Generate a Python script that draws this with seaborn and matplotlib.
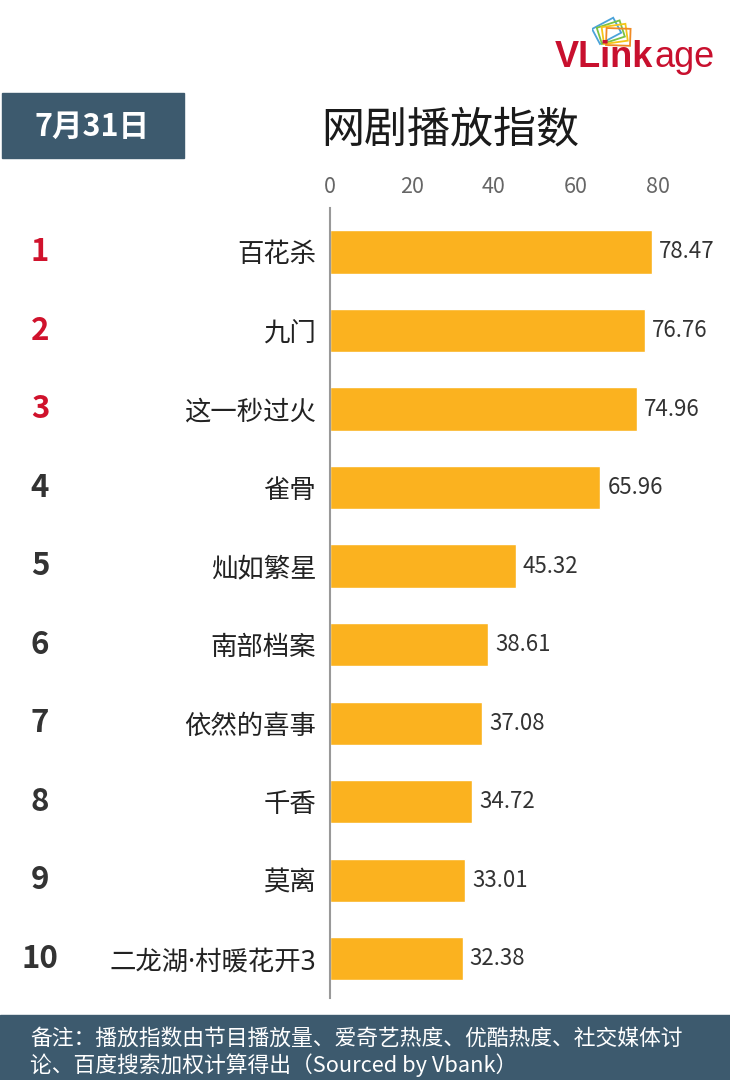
import matplotlib
matplotlib.use('Agg')
import matplotlib.pyplot as plt
import matplotlib.transforms as mtransforms
from matplotlib.patches import Rectangle
import seaborn as sns
import pandas as pd

# data
ranks = ['1', '2', '3', '4', '5', '6', '7', '8', '9', '10']
shows = ['百花杀', '九门', '这一秒过火', '雀骨', '灿如繁星', '南部档案',
         '依然的喜事', '千香', '莫离', '二龙湖·村暖花开3']
index_values = [78.47, 76.76, 74.96, 65.96, 45.32, 38.61, 37.08, 34.72, 33.01, 32.38]
x_ticks = [0, 20, 40, 60, 80]

title = '网剧播放指数'
date_label = '7月31日'
note_text = ('备注：播放指数由节目播放量、爱奇艺热度、优酷热度、社交媒体讨\n'
             '论、百度搜索加权计算得出（Sourced by Vbank）')

bar_color = '#FBB21F'
slate = '#3D5A6E'
red = '#D0122C'
dark = '#333333'

sns.set_style('white')
plt.rcParams['font.family'] = ['Noto Sans CJK SC', 'DejaVu Sans']

W, H = 730, 1080
fig = plt.figure(figsize=(W / 100, H / 100), dpi=100)

df = pd.DataFrame({'show': shows, 'value': index_values})

# main axes: left edge at x=330px, 4.1 px per unit
ax = fig.add_axes([330 / W, 1 - 998 / H, 96 * 4.1 / W, 790 / H])
sns.barplot(data=df, x='value', y='show', orient='h', color=bar_color,
            width=0.55, saturation=1, ax=ax)
ax.set_ylim(9.5, -0.56)
ax.set_xlim(0, 96)
ax.set_xlabel('')
ax.set_ylabel('')
ax.xaxis.tick_top()
ax.set_xticks(x_ticks)
ax.tick_params(axis='x', length=0, pad=7, labelsize=15.5, labelcolor='#666666')
ax.tick_params(axis='y', length=0, pad=10, labelsize=19, labelcolor='#222222')
for s in ['top', 'right', 'bottom']:
    ax.spines[s].set_visible(False)
ax.spines['left'].set_color('#999999')
ax.spines['left'].set_linewidth(1.5)
# narrow middle dot for the label that has one
for lbl in ax.get_yticklabels():
    if '·' in lbl.get_text():
        lbl.set_family(['Noto Sans', 'Noto Sans CJK SC'])

ax.bar_label(ax.containers[0], labels=[f'{v:.2f}' for v in index_values],
             padding=5, fontsize=16, color=dark)

# rank numbers on the far left
trans = mtransforms.blended_transform_factory(fig.transFigure, ax.transData)
for i, r in enumerate(ranks):
    ax.text(40 / W, i, r, transform=trans, ha='center', va='center',
            fontsize=22.5, fontweight='bold', color=red if i < 3 else dark,
            clip_on=False)

# title
fig.text(450 / W, 1 - 130 / H, title, ha='center', va='center',
         fontsize=31, fontweight='medium', color='#1a1a1a')

# date box
fig.patches.append(Rectangle((2 / W, 1 - 158 / H), 182 / W, 65 / H,
                             transform=fig.transFigure, color=slate, zorder=0))
fig.text(92 / W, 1 - 127 / H, date_label, ha='center', va='center',
         fontsize=22, fontweight='bold', color='white')

# footer band
fig.patches.append(Rectangle((0, 0), 1, 65 / H, transform=fig.transFigure,
                             color=slate, zorder=0))
fig.text(30 / W, 1 - 1052 / H, note_text, ha='left', va='center',
         fontsize=15.7, color='white', linespacing=1.2)

# logo
t1 = fig.text(555 / W, 1 - 67 / H, 'VLink', ha='left', va='baseline',
              fontsize=26, fontweight='bold', color='#C8102E',
              family='Liberation Sans')
fig.canvas.draw()
bb = t1.get_window_extent()
fig.text(bb.x1 / W + 1 / W, 1 - 67 / H, 'age', ha='left', va='baseline',
         fontsize=26, color='#C8102E', family='Liberation Sans')
lax = fig.add_axes([592 / W, 1 - 50 / H, 46 / W, 38 / H])
lax.set_xlim(0, 46)
lax.set_ylim(0, 38)
lax.axis('off')
for (x0, y0, ang, c) in [(8, 6, 28, '#4BA3D9'), (10, 6, 18, '#7CC242'),
                         (12, 6, 8, '#F5C518'), (14, 5, -2, '#F08A24')]:
    lax.add_patch(Rectangle((x0, y0), 24, 17, angle=ang, fill=False,
                            edgecolor=c, linewidth=1.3))

fig.savefig('out.png', dpi=100)
